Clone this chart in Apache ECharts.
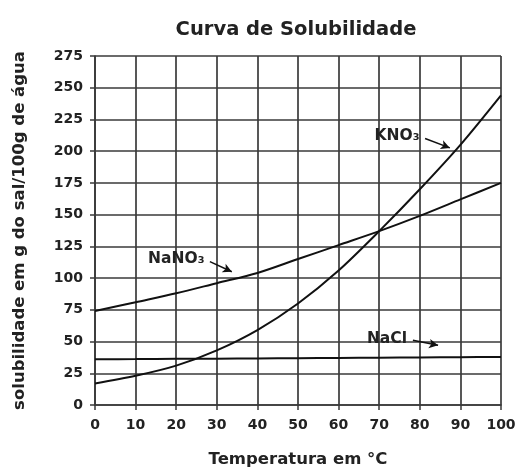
<!DOCTYPE html>
<html>
<head>
<meta charset="utf-8">
<script src="https://cdn.jsdelivr.net/npm/echarts@6/dist/echarts.min.js"></script>
<style>
html,body{margin:0;padding:0;background:#fff;}
#c{width:519px;height:473px;}
</style>
</head>
<body>
<div id="c"></div>
<script>
// Temperature (°C)
var temperatures = [0, 10, 20, 30, 40, 50, 60, 70, 80, 90, 100];
// Solubility in g per 100 g water
var kno3 = [17, 23, 31, 43, 59, 80, 106, 137, 170, 205, 244];
var nano3 = [74, 81, 88, 96, 104, 115, 126, 137, 149, 162, 175];
var nacl = [36, 36.2, 36.4, 36.5, 36.7, 36.9, 37.1, 37.3, 37.5, 37.7, 37.9];
// Annotation labels and arrows (data coordinates: start / end)
var labelNames = ['KNO₃', 'NaNO₃', 'NaCl'];
var arrowKNO3 = [[81.3, 210], [87.4, 202.6]];
var arrowNaNO3 = [[28.3, 113], [33.7, 105]];
var arrowNaCl = [[78.3, 51], [84.5, 47]];

function pairs(ys){ return temperatures.map(function(t,i){ return [t, ys[i]]; }); }

var FONT = 'DejaVu Sans';
function arrow(name, pts){
  return {
    silent: true,
    symbol: ['none', 'arrow'],
    symbolSize: [7, 9],
    lineStyle: {color: '#111', width: 1.5, type: 'solid'},
    label: {show: true, position: 'start', formatter: name, distance: 6,
            color: '#222', fontFamily: FONT, fontWeight: 'bold', fontSize: 15.5},
    data: [[{coord: pts[0]}, {coord: pts[1]}]]
  };
}
function series(name, ys, pts){
  return {
    type: 'line', name: name, data: pairs(ys), smooth: 0.3, symbol: 'none',
    lineStyle: {color: '#111', width: 2},
    markLine: arrow(name, pts),
    animation: false
  };
}

var chart = echarts.init(document.getElementById('c'), null, {renderer: 'canvas'});
chart.setOption({
  animation: false,
  backgroundColor: '#fff',
  title: {
    text: 'Curva de Solubilidade', left: 291, top: 15, textAlign: 'center',
    textStyle: {fontFamily: FONT, fontWeight: 'bold', fontSize: 19.5, color: '#222'}
  },
  grid: {left: 95, right: 18, top: 56, bottom: 65},
  xAxis: {
    type: 'value', min: 0, max: 100, interval: 10,
    name: 'Temperatura em °C', nameLocation: 'middle', nameGap: 46,
    nameTextStyle: {fontFamily: FONT, fontWeight: 'bold', fontSize: 16.5, color: '#222'},
    axisLine: {show: true, lineStyle: {color: '#3a3a3a', width: 1.7}},
    axisTick: {show: true, length: 5, lineStyle: {color: '#3a3a3a', width: 1.5}},
    axisLabel: {margin: 13, fontFamily: FONT, fontWeight: 'bold', fontSize: 14, color: '#222'},
    splitLine: {show: true, lineStyle: {color: '#3a3a3a', width: 1.7}}
  },
  yAxis: {
    type: 'value', min: 0, max: 275, interval: 25,
    name: 'solubilidade em g do sal/100g de água', nameLocation: 'middle', nameGap: 67,
    nameTextStyle: {fontFamily: FONT, fontWeight: 'bold', fontSize: 16.5, color: '#222'},
    axisLine: {show: true, lineStyle: {color: '#3a3a3a', width: 1.7}},
    axisTick: {show: true, length: 5, lineStyle: {color: '#3a3a3a', width: 1.5}},
    axisLabel: {margin: 12, fontFamily: FONT, fontWeight: 'bold', fontSize: 14, color: '#222'},
    splitLine: {show: true, lineStyle: {color: '#3a3a3a', width: 1.7}}
  },
  series: [
    series(labelNames[0], kno3, arrowKNO3),
    series(labelNames[1], nano3, arrowNaNO3),
    series(labelNames[2], nacl, arrowNaCl)
  ]
});
</script>
</body>
</html>
